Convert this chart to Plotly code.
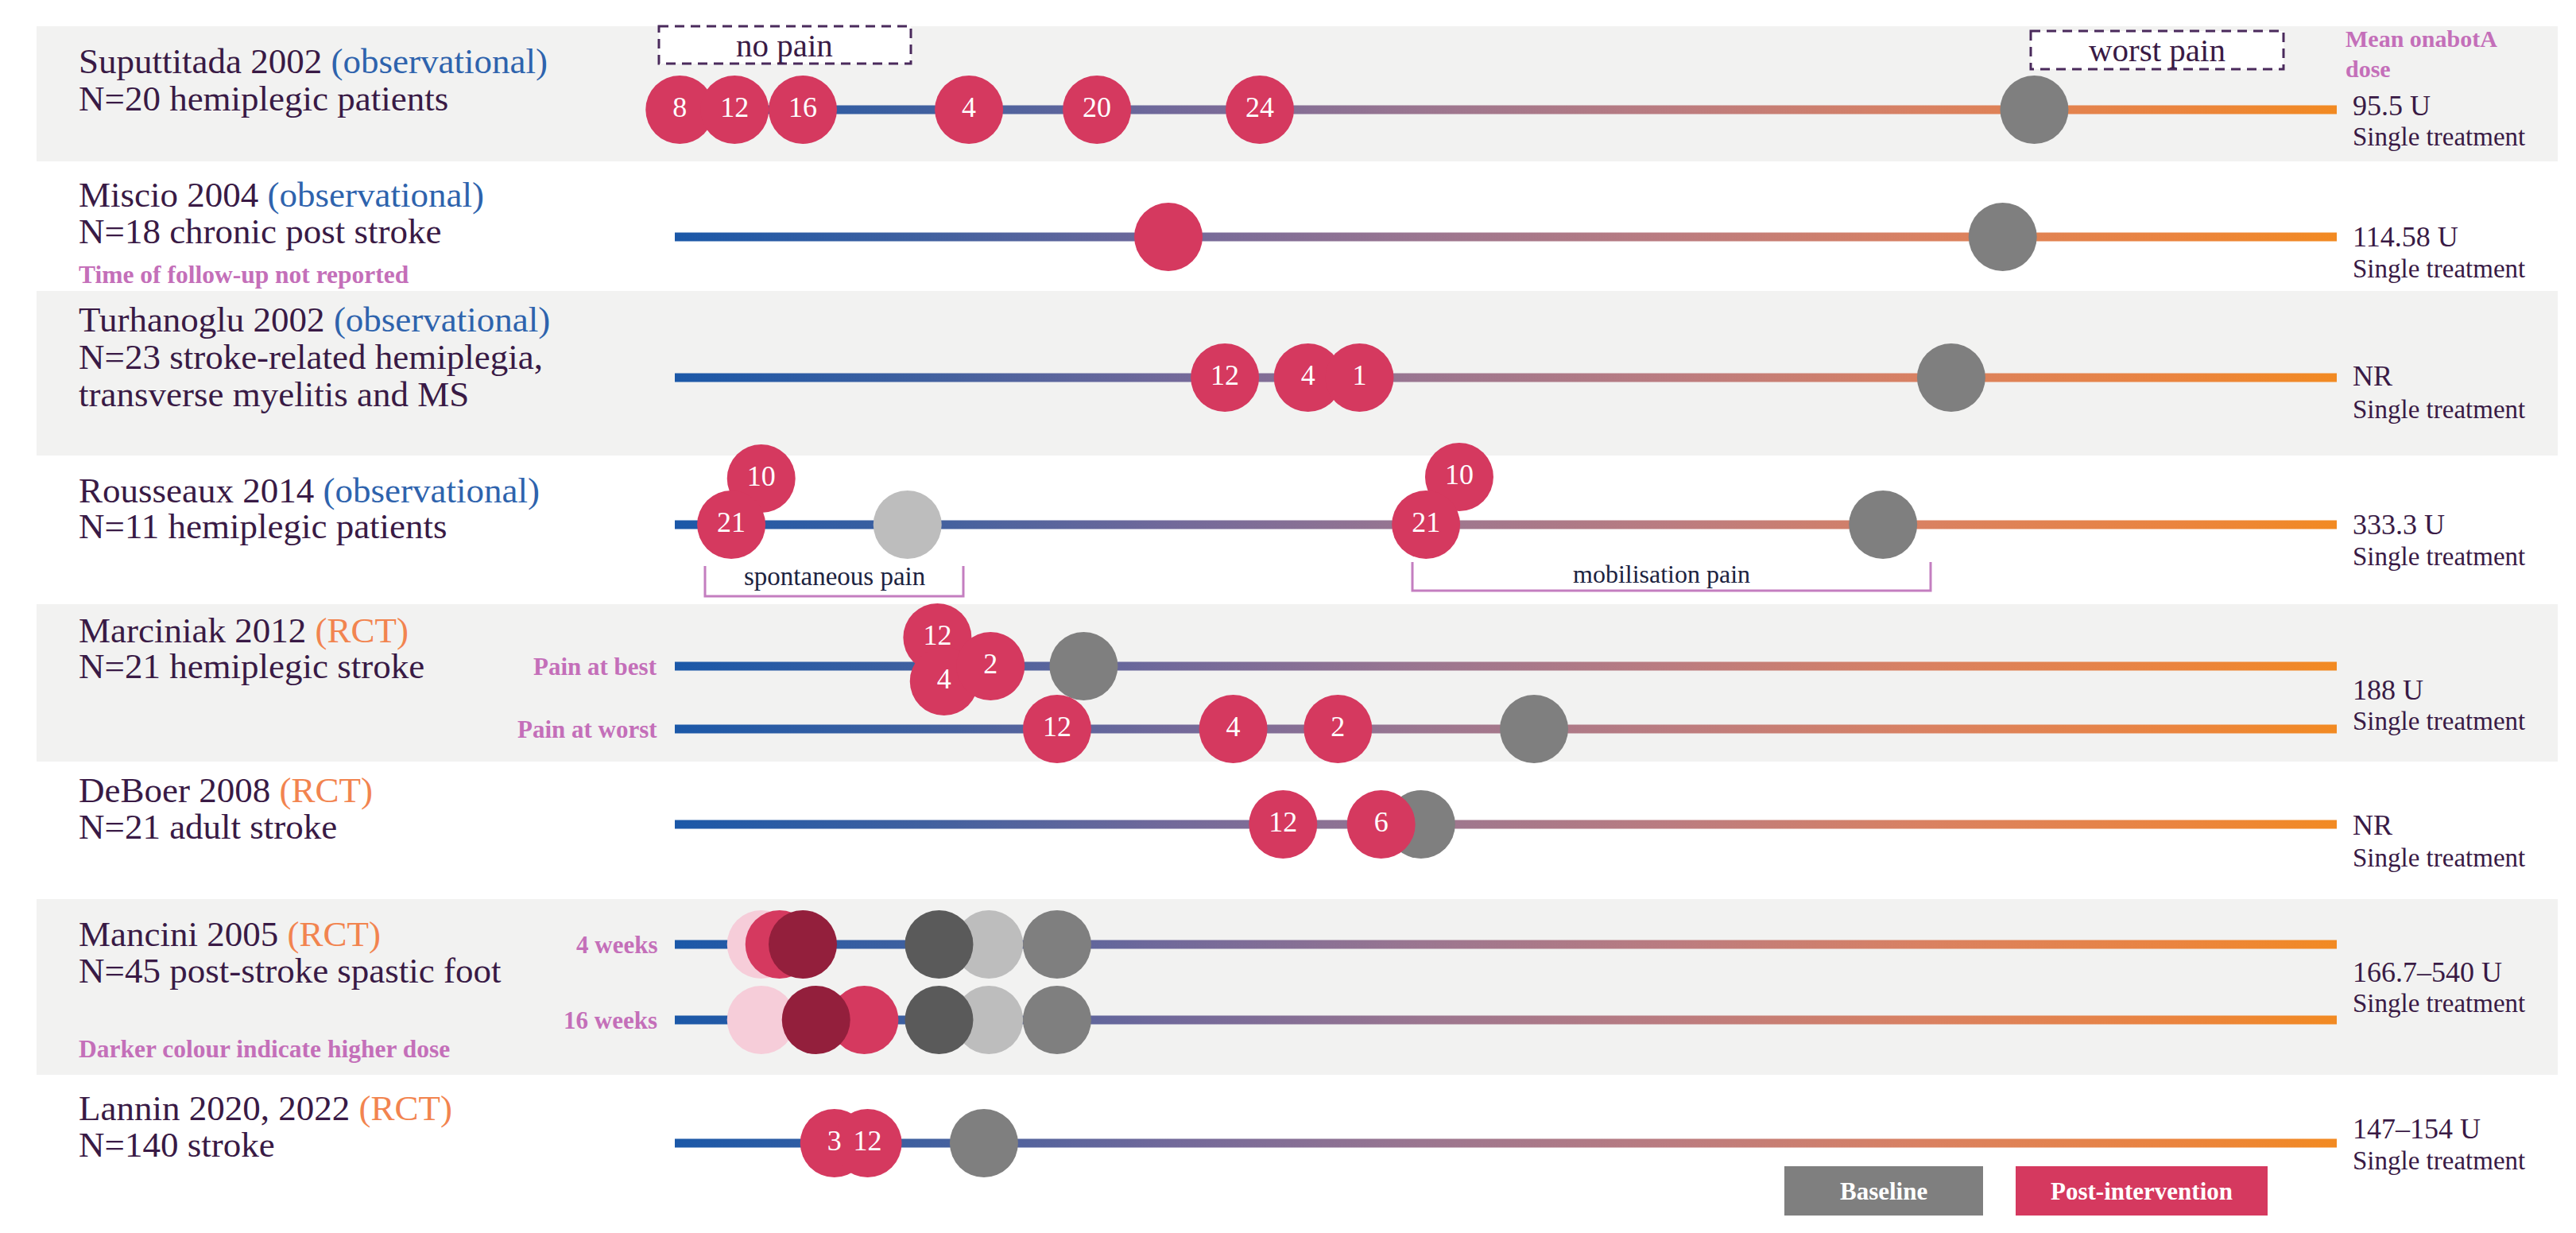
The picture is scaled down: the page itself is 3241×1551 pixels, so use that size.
import plotly.graph_objects as go

W, H = 3241, 1551

# ---------------- data ----------------
studies = ["Suputtitada 2002", "Miscio 2004", "Turhanoglu 2002", "Rousseaux 2014",
           "Marciniak 2012", "DeBoer 2008", "Mancini 2005", "Lannin 2020, 2022"]
designs = ["observational", "observational", "observational", "observational",
           "RCT", "RCT", "RCT", "RCT"]
populations = [["N=20 hemiplegic patients"], ["N=18 chronic post stroke"],
               ["N=23 stroke-related hemiplegia,", "transverse myelitis and MS"],
               ["N=11 hemiplegic patients"], ["N=21 hemiplegic stroke"],
               ["N=21 adult stroke"], ["N=45 post-stroke spastic foot"], ["N=140 stroke"]]
study_notes = ["", "Time of follow-up not reported", "", "", "", "",
               "Darker colour indicate higher dose", ""]
mean_doses = ["95.5 U", "114.58 U", "NR", "333.3 U", "188 U", "NR", "166.7–540 U", "147–154 U"]
regimens = ["Single treatment"] * 8

# one pain line ("track") per outcome
track_study = [0, 1, 2, 3, 4, 4, 5, 6, 6, 7]
track_labels = ["", "", "", "", "Pain at best", "Pain at worst", "", "4 weeks", "16 weeks", ""]

# pain position on the line: 0 = no pain ... 10 = worst pain ; labels = follow-up week
suputtitada_weeks = ["8", "12", "16", "4", "20", "24"]
suputtitada_post = [0.03, 0.36, 0.77, 1.77, 2.54, 3.52]
suputtitada_base = [8.18]
miscio_weeks = [""]
miscio_post = [2.97]
miscio_base = [7.99]
turhanoglu_weeks = ["12", "4", "1"]
turhanoglu_post = [3.31, 3.81, 4.12]
turhanoglu_base = [7.68]
rousseaux_weeks = ["10", "21", "10", "21"]          # spontaneous x2, mobilisation x2
rousseaux_post = [0.52, 0.34, 4.72, 4.52]
rousseaux_base = [1.40, 7.27]                        # spontaneous, mobilisation
marciniak_best_weeks = ["12", "4", "2"]
marciniak_best_post = [1.58, 1.62, 1.90]
marciniak_best_base = [2.46]
marciniak_worst_weeks = ["12", "4", "2"]
marciniak_worst_post = [2.30, 3.36, 3.99]
marciniak_worst_base = [5.17]
deboer_weeks = ["12", "6"]
deboer_post = [3.66, 4.25]
deboer_base = [4.49]
mancini_dose_groups = ["low", "medium", "high"]
mancini_4wk_post = [0.52, 0.63, 0.77]
mancini_16wk_post = [0.52, 1.14, 0.85]
mancini_base = [1.89, 2.30, 1.59]
lannin_weeks = ["3", "12"]
lannin_post = [0.96, 1.16]
lannin_base = [1.86]

legend_labels = ["Baseline", "Post-intervention"]

# ---------------- styles / layout constants ----------------
FONT = "Liberation Serif"
TXT = "#391a45"
BLUE_TXT = "#2e63ad"
ORANGE_TXT = "#f2844f"
PINK = "#c46fb9"
RED = "#d5395f"
GRAY = "#7f7f7f"
LIGHT_GRAY = "#bdbdbd"
DARK_GRAY = "#5a5a5a"
LIGHT_RED = "#f6cdd9"
DARK_RED = "#931f3c"
BAND = "#f2f2f1"

LINE_X0_PX, LINE_X1_PX = 849, 2940
PPU = (LINE_X1_PX - LINE_X0_PX) / 10.0
X_RANGE = [-LINE_X0_PX / PPU, (W - LINE_X0_PX) / PPU]
MARKER = 86
LINE_HALF = 5.5

track_y = [138, 298, 475, 660, 838, 917, 1037, 1188, 1283, 1438]
title_y = [77, 245, 402, 617, 793, 994, 1175, 1394]
pop_y = [[124], [291], [449, 496], [662], [838], [1040], [1221], [1440]]
note_y = [None, 345, None, None, None, None, 1319, None]
dose_y = [133, 298, 473, 660, 868, 1038, 1223, 1420]
regimen_y = [172, 338, 515, 700, 907, 1079, 1262, 1460]
bands = [(33, 203), (366, 573), (760, 958), (1131, 1352)]

post_sets = [
    (suputtitada_post, suputtitada_weeks),
    (miscio_post, miscio_weeks),
    (turhanoglu_post, turhanoglu_weeks),
    (rousseaux_post, rousseaux_weeks),
    (marciniak_best_post, marciniak_best_weeks),
    (marciniak_worst_post, marciniak_worst_weeks),
    (deboer_post, deboer_weeks),
    (mancini_4wk_post, [""] * len(mancini_dose_groups)),
    (mancini_16wk_post, [""] * len(mancini_dose_groups)),
    (lannin_post, lannin_weeks),
]
base_sets = [suputtitada_base, miscio_base, turhanoglu_base, rousseaux_base,
             marciniak_best_base, marciniak_worst_base, deboer_base,
             mancini_base, mancini_base, lannin_base]

post_colors = {7: [LIGHT_RED, RED, DARK_RED], 8: [LIGHT_RED, RED, DARK_RED]}
base_colors = {3: [LIGHT_GRAY, GRAY], 7: [LIGHT_GRAY, GRAY, DARK_GRAY],
               8: [LIGHT_GRAY, GRAY, DARK_GRAY]}
post_dy = {3: [-58, 0, -60, 0], 4: [-36, 19, 0]}   # vertical stacking of overlapping circles

GRADIENT = [[0.0, "#1b58a8"], [0.15, "#40609f"], [0.3, "#72699a"], [0.45, "#9b7690"],
            [0.6, "#bb7c80"], [0.75, "#d98162"], [0.9, "#ea8440"], [1.0, "#f28a22"]]


def px(xp):
    return xp / W


fig = go.Figure()

for t, yc in enumerate(track_y):
    # gradient pain line
    fig.add_trace(go.Scatter(
        x=[0, 10, 10, 0, 0],
        y=[yc - LINE_HALF, yc - LINE_HALF, yc + LINE_HALF, yc + LINE_HALF, yc - LINE_HALF],
        mode="lines", fill="toself", line=dict(width=0),
        fillgradient=dict(type="horizontal", colorscale=GRADIENT, start=0, stop=10),
        hoverinfo="skip"))
    # baseline circles
    bx = base_sets[t]
    fig.add_trace(go.Scatter(
        x=bx, y=[yc] * len(bx), mode="markers",
        marker=dict(size=MARKER, color=base_colors.get(t, [GRAY] * len(bx)), line=dict(width=0)),
        cliponaxis=False, hoverinfo="skip"))
    # post-intervention circles
    vals, labs = post_sets[t]
    dys = post_dy.get(t, [0] * len(vals))
    fig.add_trace(go.Scatter(
        x=vals, y=[yc + d for d in dys], mode="markers+text", text=labs,
        textposition="middle center",
        textfont=dict(family=FONT, size=36, color="white"),
        marker=dict(size=MARKER, color=post_colors.get(t, [RED] * len(vals)), line=dict(width=0)),
        cliponaxis=False, hoverinfo="skip"))

shapes = []
for y0, y1 in bands:
    shapes.append(dict(type="rect", xref="paper", yref="y", x0=px(46), x1=px(3218),
                       y0=y0, y1=y1, fillcolor=BAND, line=dict(width=0), layer="below"))
# dashed boxes
for (x0, x1, y0, y1) in [(829, 1146, 33, 80), (2555, 2873, 39, 87)]:
    shapes.append(dict(type="rect", xref="paper", yref="y", x0=px(x0), x1=px(x1), y0=y0, y1=y1,
                       fillcolor="white", line=dict(color="#4a2a5c", width=3, dash="12px,8px")))
# brackets
for (x0, x1, y0, y1) in [(887, 1212, 712, 750), (1777, 2429, 707, 743)]:
    shapes.append(dict(type="path", xref="paper", yref="y",
                       path=f"M {px(x0)},{y0} L {px(x0)},{y1} L {px(x1)},{y1} L {px(x1)},{y0}",
                       line=dict(color="#c47ec0", width=3)))
# legend boxes
legend_boxes = [(2245, 2495, GRAY), (2536, 2853, RED)]
for (x0, x1, c) in legend_boxes:
    shapes.append(dict(type="rect", xref="paper", yref="y", x0=px(x0), x1=px(x1),
                       y0=1467, y1=1529, fillcolor=c, line=dict(width=0)))

ann = []


def add_text(xp, y, text, size, color=TXT, anchor="left", bold=False):
    if bold:
        text = f"<b>{text}</b>"
    ann.append(dict(x=px(xp), y=y, xref="paper", yref="y", text=text, showarrow=False,
                    xanchor=anchor, yanchor="middle",
                    font=dict(family=FONT, size=size, color=color)))


for s, name in enumerate(studies):
    dcol = BLUE_TXT if designs[s] == "observational" else ORANGE_TXT
    add_text(97, title_y[s], f"{name} <span style='color:{dcol}'>({designs[s]})</span>", 45)
    for line, yy in zip(populations[s], pop_y[s]):
        add_text(97, yy, line, 45)
    if study_notes[s]:
        add_text(97, note_y[s], study_notes[s], 31.5, PINK, bold=True)
    add_text(2958, dose_y[s], mean_doses[s], 36)
    add_text(2958, regimen_y[s], regimens[s], 33)

add_text(2949, 48, "Mean onabotA", 30, PINK, bold=True)
add_text(2949, 86, "dose", 30, PINK, bold=True)

for t, lab in enumerate(track_labels):
    if lab:
        add_text(829, track_y[t], lab, 31, PINK, anchor="right", bold=True)

add_text(987, 57, "no pain", 41, TXT, anchor="center")
add_text(2714, 63, "worst pain", 41, TXT, anchor="center")
add_text(1050, 725, "spontaneous pain", 33, "#1c2340", anchor="center")
add_text(2090, 722, "mobilisation pain", 32, "#1c2340", anchor="center")

for (x0, x1, c), lab in zip(legend_boxes, legend_labels):
    add_text((x0 + x1) / 2, 1498, lab, 31, "white", anchor="center", bold=True)

fig.update_layout(
    width=W, height=H, margin=dict(l=0, r=0, t=0, b=0),
    paper_bgcolor="white", plot_bgcolor="white", showlegend=False,
    xaxis=dict(range=X_RANGE, visible=False, fixedrange=True),
    yaxis=dict(range=[H, 0], visible=False, fixedrange=True),
    shapes=shapes, annotations=ann,
)

fig.write_html("out.html", config={"displayModeBar": False},
               post_script="document.body.style.margin='0px';")
